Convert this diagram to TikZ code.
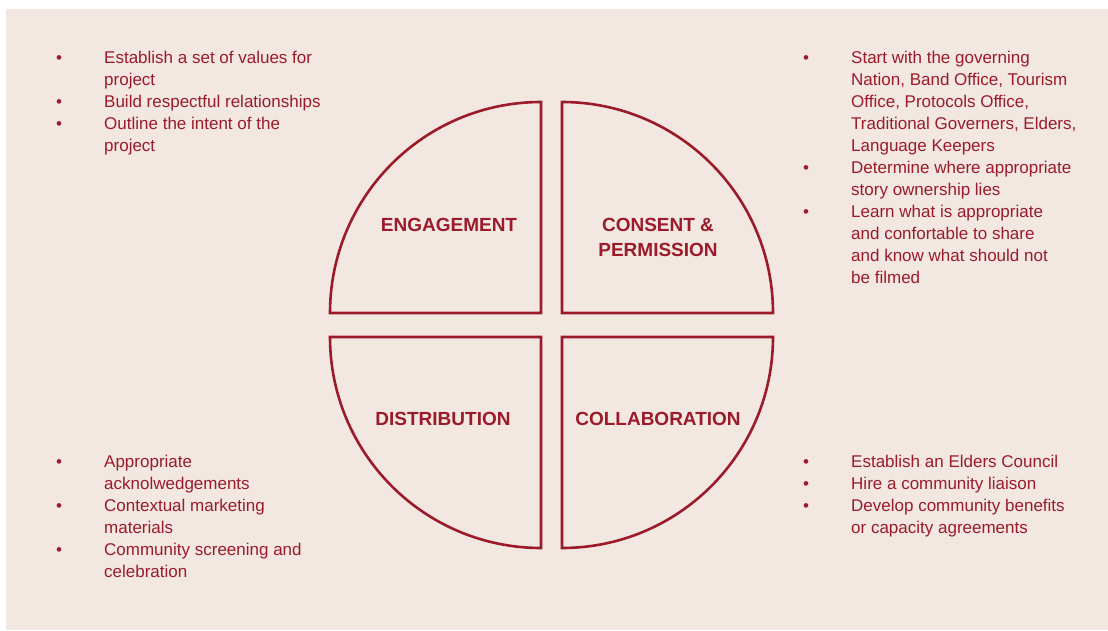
\documentclass[tikz,border=0pt]{standalone}
\usepackage{fontspec}
\setmainfont{Liberation Sans}
\definecolor{deepred}{HTML}{9B1B2B}
\definecolor{paper}{HTML}{F2E7E1}
\tikzset{quarter/.style={draw=deepred, line width=2.6pt, line join=miter},
  title/.style={text=deepred, font=\fontsize{19}{25}\selectfont\bfseries, align=center, inner sep=0pt, anchor=base},
  itemlist/.style={text=deepred, font=\fontsize{17}{22}\selectfont, inner sep=0pt, anchor=base west}}
\newcommand{\blt}{\textbullet}

\begin{document}
\begin{tikzpicture}[x=1pt, y=-1pt]
    \useasboundingbox (0,0) rectangle (1108,631);
    \fill[white] (0,0) rectangle (1108,631);
    \fill[paper] (6,9) rectangle (1108,630);

    % the four quarters
    \draw[quarter] (330,313) arc[start angle=180, end angle=270, radius=211] -- (541,313) -- cycle;
    \draw[quarter] (562,102) arc[start angle=270, end angle=360, radius=211] -- (562,313) -- cycle;
    \draw[quarter] (541,548) arc[start angle=90, end angle=180, radius=211] -- (541,337) -- cycle;
    \draw[quarter] (773,337) arc[start angle=0, end angle=90, radius=211] -- (562,337) -- cycle;

    \node (eng) [title] at (449,231) {ENGAGEMENT};
    \node (con) [title] at (658,256) {CONSENT \&\\PERMISSION};
    \node (dis) [title] at (443,425) {DISTRIBUTION};
    \node (col) [title] at (658,425) {COLLABORATION};

    % the lists
    \node (engl) [itemlist] at (56,64) {\begin{tabular}[t]{@{}p{48pt}@{}l@{}}
        \blt & Establish a set of values for\\
             & project\\
        \blt & Build respectful relationships\\
        \blt & Outline the intent of the\\
             & project
    \end{tabular}};
    \node (conl) [itemlist] at (803,64) {\begin{tabular}[t]{@{}p{48pt}@{}l@{}}
        \blt & Start with the governing\\
             & Nation, Band Office, Tourism\\
             & Office, Protocols Office,\\
             & Traditional Governers, Elders,\\
             & Language Keepers\\
        \blt & Determine where appropriate\\
             & story ownership lies\\
        \blt & Learn what is appropriate\\
             & and confortable to share\\
             & and know what should not\\
             & be filmed
    \end{tabular}};
    \node (disl) [itemlist] at (56,467) {\begin{tabular}[t]{@{}p{48pt}@{}l@{}}
        \blt & Appropriate\\
             & acknolwedgements\\
        \blt & Contextual marketing\\
             & materials\\
        \blt & Community screening and\\
             & celebration
    \end{tabular}};
    \node (coll) [itemlist] at (803,467) {\begin{tabular}[t]{@{}p{48pt}@{}l@{}}
        \blt & Establish an Elders Council\\
        \blt & Hire a community liaison\\
        \blt & Develop community benefits\\
             & or capacity agreements
    \end{tabular}};
\end{tikzpicture}
\end{document}
